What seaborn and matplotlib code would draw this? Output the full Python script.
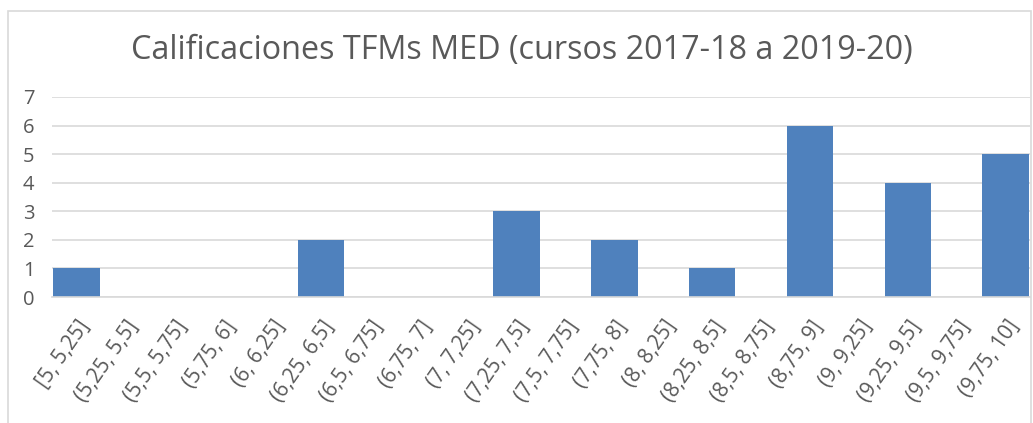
import matplotlib
matplotlib.use("Agg")
import matplotlib.pyplot as plt
import seaborn as sns
import pandas as pd
from matplotlib.patches import Rectangle

categories = ["[5, 5,25]", "(5,25, 5,5]", "(5,5, 5,75]", "(5,75, 6]", "(6, 6,25]",
              "(6,25, 6,5]", "(6,5, 6,75]", "(6,75, 7]", "(7, 7,25]", "(7,25, 7,5]",
              "(7,5, 7,75]", "(7,75, 8]", "(8, 8,25]", "(8,25, 8,5]", "(8,5, 8,75]",
              "(8,75, 9]", "(9, 9,25]", "(9,25, 9,5]", "(9,5, 9,75]", "(9,75, 10]"]
counts = [1, 0, 0, 0, 0, 2, 0, 0, 0, 3, 0, 2, 0, 1, 0, 6, 0, 4, 0, 5]
y_ticks = [0, 1, 2, 3, 4, 5, 6, 7]
title = "Calificaciones TFMs MED (cursos 2017-18 a 2019-20)"

sns.set_theme(style="white")
plt.rcParams['font.family'] = ['Open Sans', 'DejaVu Sans']

df = pd.DataFrame({"rango": categories, "n": counts})
text_col = "#595959"
grid_col = "#d9d9d9"

fig = plt.figure(figsize=(10.33, 4.23), dpi=100)
ax = fig.add_axes([52 / 1033, 1 - 297 / 423, (1030 - 52) / 1033, 200 / 423])

sns.barplot(data=df, x="rango", y="n", color="#4f81bd", saturation=1,
            width=0.95, linewidth=0, ax=ax)

ax.set_xlim(-0.5, len(categories) - 0.5)
ax.set_ylim(0, 7)
ax.set_yticks(y_ticks)
ax.yaxis.grid(True, color=grid_col, linewidth=1.2)
ax.set_axisbelow(True)
for s in ["left", "right", "top"]:
    ax.spines[s].set_visible(False)
ax.spines["bottom"].set_color(grid_col)
ax.spines["bottom"].set_linewidth(1.2)
ax.set_xlabel("")
ax.set_ylabel("")
ax.tick_params(axis="both", length=0, colors=text_col)
ax.tick_params(axis="y", labelsize=14.5, pad=21)
ax.tick_params(axis="x", labelsize=15, pad=14)
for lab in ax.get_xticklabels():
    lab.set_rotation(55)
    lab.set_ha("right")
    lab.set_rotation_mode("anchor")
for lab in ax.get_yticklabels():
    lab.set_ha("left")

fig.text(0.505, 1 - 50 / 423, title, ha="center", va="center",
         fontsize=23.3, color=text_col)

# outer chart frame
fig.patches.append(Rectangle((8 / 1033, -0.1), 1023 / 1033, 1.1 - 11 / 423,
                             transform=fig.transFigure, fill=False,
                             edgecolor=grid_col, linewidth=1.2))

fig.savefig("out.png", dpi=100)
